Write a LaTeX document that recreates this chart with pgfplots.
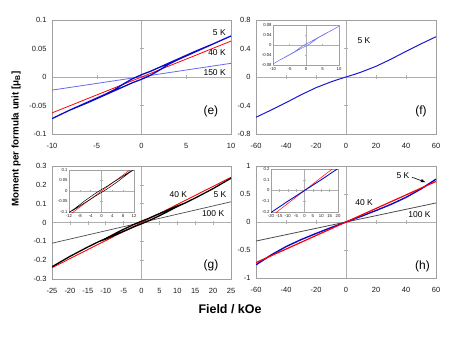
\documentclass[border=0pt]{standalone}
\usepackage{fontspec}
\setmainfont{Liberation Sans}
\usepackage{pgfplots}
\usepackage{pgfplotstable}
\pgfplotsset{compat=1.18}

\definecolor{framegray}{RGB}{160,160,160}
\definecolor{axgray}{RGB}{175,175,175}
\definecolor{dblue}{RGB}{10,10,200}
\definecolor{mblue}{RGB}{105,105,235}
\definecolor{fblue}{RGB}{25,25,210}
\definecolor{dgray}{RGB}{75,75,75}
\definecolor{pred}{RGB}{255,0,0}

\tikzset{
  tlab/.style={font=\fontsize{8.5}{9}\selectfont},
  plab/.style={font=\fontsize{12}{13}\selectfont},
}

% panel frame with tick labels outside, zero lines with crossing ticks drawn by a second axis
\pgfplotsset{
  box/.style={scale only axis, anchor=south west, enlargelimits=false,
    axis line style={draw=framegray, line width=0.5pt},
    tick style={draw=none}, scaled ticks=false,
    /pgf/number format/assume math mode=true,
    ticklabel style={text=black!90},
    yticklabel style={/pgf/number format/fixed, /pgf/number format/precision=2}},
  big/.style={box,
    xticklabel style={font=\fontsize{7.5}{8}\selectfont, yshift=-6bp},
    yticklabel style={font=\fontsize{7.5}{8}\selectfont, xshift=-2bp}},
  small/.style={box,
    xticklabel style={font=\fontsize{4.3}{5}\selectfont, yshift=-1bp, inner sep=1.2bp},
    yticklabel style={font=\fontsize{4.3}{5}\selectfont, inner sep=1.2bp}},
  zero/.style={scale only axis, anchor=south west, enlargelimits=false,
    scaled ticks=false,
    axis lines=middle, axis line style={-, draw=axgray, line width=0.5pt},
    xticklabel={\relax}, yticklabel={\relax}, tick align=center,
    major tick length=4bp, tick style={draw=axgray, line width=0.5pt}},
  szero/.style={zero, major tick length=2.5bp},
}

% (e) 5 K loop, field sweep down then up
\pgfplotstableread{
H M
10 0.072
8 0.058
6 0.045
4 0.031
3 0.024
2 0.017
1 0.010
0 0.004
-1 -0.003
-2 -0.012
-3 -0.022
-4 -0.030
-6 -0.044
-8 -0.058
-10 -0.073
-8 -0.058
-6 -0.045
-4 -0.031
-3 -0.024
-2 -0.017
-1 -0.010
0 -0.004
1 0.003
2 0.012
3 0.022
4 0.030
6 0.044
8 0.058
10 0.072
}\eFive

\pgfplotstableread{
H M
-60 -0.565
-50 -0.465
-40 -0.36
-30 -0.25
-20 -0.15
-10 -0.068
-5 -0.033
0 0
5 0.033
10 0.068
20 0.15
30 0.25
40 0.36
50 0.465
60 0.565
}\fFive

% (g) 5 K loop
\pgfplotstableread{
H M
25 0.235
20 0.18
15 0.13
12 0.102
10 0.088
6 0.055
4 0.039
2 0.022
0 0.007
-2 -0.009
-4 -0.027
-6 -0.045
-10 -0.085
-12 -0.102
-15 -0.13
-20 -0.18
-25 -0.235
-20 -0.18
-15 -0.13
-12 -0.102
-10 -0.088
-6 -0.055
-4 -0.039
-2 -0.022
0 -0.007
2 0.009
4 0.027
6 0.045
10 0.085
12 0.102
15 0.13
20 0.18
25 0.235
}\gFive

\pgfplotstableread{
H M
-25 -0.24
-12 -0.115
0 0
12 0.115
25 0.24
}\gForty

\pgfplotstableread{
H M
-60 -0.765
-50 -0.59
-40 -0.44
-30 -0.315
-20 -0.205
-10 -0.1
0 0
10 0.1
20 0.205
30 0.315
40 0.44
50 0.59
60 0.765
}\hFive

\pgfplotstableread{
H M
-60 -0.725
-20 -0.242
0 0
20 0.242
60 0.725
}\hForty

\begin{document}
\begin{tikzpicture}[x=1bp,y=1bp]
\useasboundingbox (0,0) rectangle (450,337);

% ---------- (e)
\begin{axis}[zero, at={(52bp,203bp)}, width=179bp, height=114bp,
  xmin=-10, xmax=10, ymin=-0.1, ymax=0.1, xtick={-10,-5,...,10}, ytick={-0.1,-0.05,...,0.1}]
\end{axis}
\begin{axis}[big, at={(52bp,203bp)}, width=179bp, height=114bp,
  xmin=-10, xmax=10, ymin=-0.1, ymax=0.1,
  xtick={-10,-5,...,10}, ytick={-0.1,-0.05,0,0.05,0.1}]
\addplot[mblue, line width=0.8pt] coordinates {(-10,-0.023) (10,0.024)};
\addplot[pred, line width=0.8pt] coordinates {(-10,-0.063) (10,0.063)};
\addplot[dblue, line width=1.3pt] table[x=H, y=M] {\eFive};
\node[tlab, anchor=east] at (axis cs:9.8,0.077) {5 K};
\node[tlab, anchor=east] at (axis cs:9.8,0.042) {40 K};
\node[tlab, anchor=east] at (axis cs:9.8,0.007) {150 K};
\node[plab] at (axis cs:7.75,-0.06) {(e)};
\end{axis}

% ---------- (f)
\begin{axis}[zero, at={(256bp,203bp)}, width=180bp, height=114bp,
  xmin=-60, xmax=60, ymin=-0.8, ymax=0.8, xtick={-60,-40,...,60}, ytick={-0.8,-0.4,0,0.4,0.8}]
\end{axis}
\begin{axis}[big, at={(256bp,203bp)}, width=180bp, height=114bp,
  xmin=-60, xmax=60, ymin=-0.8, ymax=0.8,
  xtick={-60,-40,...,60}, ytick={-0.8,-0.4,0,0.4,0.8}]
\addplot[fblue, line width=1pt] table[x=H, y=M] {\fFive};
\node[tlab] at (axis cs:12,0.505) {5 K};
\node[plab] at (axis cs:50,-0.477) {(f)};
\end{axis}
% inset (f)
\fill[white] (262,266) rectangle (344,314);
\begin{axis}[szero, at={(273bp,272bp)}, width=66bp, height=40bp,
  xmin=-10, xmax=10, ymin=-0.08, ymax=0.08, xtick={-10,-5,...,10}, ytick={-0.08,-0.04,...,0.08}]
\end{axis}
\begin{axis}[small, at={(273bp,272bp)}, width=66bp, height=40bp,
  xmin=-10, xmax=10, ymin=-0.08, ymax=0.08,
  xtick={-10,-5,...,10}, ytick={-0.08,-0.04,0,0.04,0.08}]
\addplot[mblue, line width=0.5pt] table[x=H, y expr=\thisrow{M}*1.04] {\eFive};
\end{axis}

% ---------- (g)
\begin{axis}[zero, at={(52bp,58bp)}, width=179bp, height=113bp,
  xmin=-25, xmax=25, ymin=-0.3, ymax=0.3, xtick={-25,-20,...,25}, ytick={-0.3,-0.2,...,0.3}]
\end{axis}
\begin{axis}[big, at={(52bp,58bp)}, width=179bp, height=113bp,
  xmin=-25, xmax=25, ymin=-0.3, ymax=0.3,
  xtick={-25,-20,...,25}, ytick={-0.3,-0.2,-0.1,0,0.1,0.2,0.3}]
\addplot[dgray, line width=0.7pt] coordinates {(-25,-0.11) (25,0.11)};
\addplot[pred, line width=0.9pt] table[x=H, y=M] {\gForty};
\addplot[black, line width=1.3pt] table[x=H, y=M] {\gFive};
\node[tlab] at (axis cs:10.3,0.146) {40 K};
\node[tlab] at (axis cs:21.9,0.146) {5 K};
\node[tlab] at (axis cs:20,0.045) {100 K};
\node[plab] at (axis cs:19.4,-0.23) {(g)};
\end{axis}
% inset (g)
\fill[white] (53,119) rectangle (137,169);
\begin{axis}[szero, at={(69bp,125bp)}, width=65bp, height=42bp,
  xmin=-12, xmax=12, ymin=-0.1, ymax=0.1, xtick={-12,-8,...,12}, ytick={-0.1,-0.05,...,0.1}]
\end{axis}
\begin{axis}[small, at={(69bp,125bp)}, width=65bp, height=42bp,
  xmin=-12, xmax=12, ymin=-0.1, ymax=0.1,
  xtick={-12,-8,...,12}, ytick={-0.1,-0.05,0,0.05,0.1}]
\addplot[pred, line width=0.5pt] table[x=H, y=M] {\gForty};
\addplot[black, line width=0.5pt] table[x=H, y=M] {\gFive};
\end{axis}

% ---------- (h)
\begin{axis}[zero, at={(256bp,59bp)}, width=180bp, height=112bp,
  xmin=-60, xmax=60, ymin=-1, ymax=1, xtick={-60,-40,...,60}, ytick={-1,-0.5,0,0.5,1}]
\end{axis}
\begin{axis}[big, at={(256bp,59bp)}, width=180bp, height=112bp,
  xmin=-60, xmax=60, ymin=-1, ymax=1,
  xtick={-60,-40,...,60}, ytick={-1,-0.5,0,0.5,1}]
\addplot[dgray, line width=0.8pt] coordinates {(-60,-0.34) (60,0.34)};
\addplot[dblue, line width=1.4pt] table[x=H, y=M] {\hFive};
\addplot[pred, line width=1.2pt] table[x=H, y=M] {\hForty};
\node[tlab] at (axis cs:38,0.82) {5 K};
\draw[-latex, line width=0.6pt] (axis cs:44,0.8) -- (axis cs:53,0.71);
\node[tlab] at (axis cs:12,0.35) {40 K};
\node[tlab] at (axis cs:49,0.14) {100 K};
\node[plab] at (axis cs:51,-0.79) {(h)};
\end{axis}
% inset (h)
\fill[white] (258,119) rectangle (342,169);
\begin{axis}[szero, at={(271bp,125bp)}, width=67bp, height=43bp,
  xmin=-20, xmax=20, ymin=-0.2, ymax=0.2, xtick={-20,-15,...,20}, ytick={-0.2,-0.1,...,0.2}]
\end{axis}
\begin{axis}[small, at={(271bp,125bp)}, width=67bp, height=43bp,
  xmin=-20, xmax=20, ymin=-0.2, ymax=0.2,
  xtick={-20,-15,...,20}, ytick={-0.2,-0.1,0,0.1,0.2}]
\addplot[pred, line width=0.5pt] table[x=H, y=M] {\hForty};
\addplot[dblue, line width=0.9pt] table[x=H, y=M] {\hFive};
\end{axis}

% axis titles
\node[rotate=90, font=\bfseries\fontsize{9.8}{11}\selectfont] at (16,198)
  {Moment per formula unit [μ\textsubscript{B}]};
\node[font=\bfseries\fontsize{12.5}{14}\selectfont] at (230,28) {Field / kOe};
\end{tikzpicture}
\end{document}
